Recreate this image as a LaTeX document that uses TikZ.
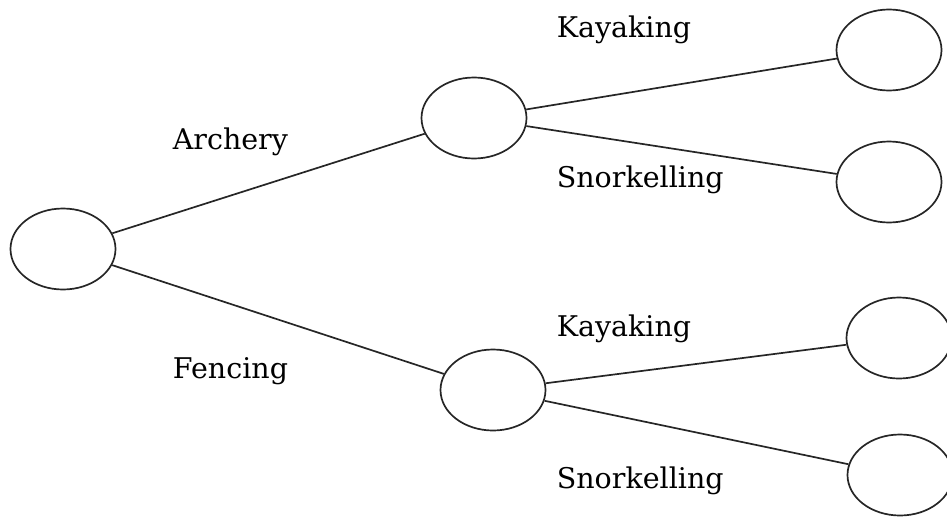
\documentclass[tikz,border=0pt]{standalone}
\usepackage{fontspec}
\setmainfont{DejaVu Serif}
\usepackage{tikz}
\usetikzlibrary{shapes}
\tikzset{
	outcome/.style = {draw, ellipse, line width=1.7pt, inner sep=0pt,
		minimum width=105pt, minimum height=81pt},
	branch/.style  = {anchor=base west, inner sep=0pt,
		font=\fontsize{28.5}{34}\selectfont}
}

\begin{document}
\begin{tikzpicture}[x=1pt, y=-1pt, line width=1.7pt, color=black!85]
	\useasboundingbox (0,0) rectangle (947,517);
	\clip (0,0) rectangle (947,517);
	% outcome circles
	\draw
	node at (63,249) [outcome] (start) {}
	node at (474,118) [outcome] (arch) {}
	node at (493,390) [outcome] (fenc) {}
	node at (889,50) [outcome] (ak) {}
	node at (889,182) [outcome] (as) {}
	node at (899,338) [outcome] (fk) {}
	node at (900,475) [outcome] (fs) {}
	;
	
	\draw (start) -- (arch);
	\draw (start) -- (fenc);
	\draw (arch) -- (ak);
	\draw (arch) -- (as);
	\draw (fenc) -- (fk);
	\draw (fenc) -- (fs);
	
	% branch labels
	\draw
	node at (172,149) [branch, text=black] (l1) {Archery}
	node at (172,378) [branch, text=black] (l2) {Fencing}
	node at (556,37) [branch, text=black] (l3) {Kayaking}
	node at (556,187) [branch, text=black] (l4) {Snorkelling}
	node at (556,336) [branch, text=black] (l5) {Kayaking}
	node at (556,488) [branch, text=black] (l6) {Snorkelling};
\end{tikzpicture}
\end{document}
